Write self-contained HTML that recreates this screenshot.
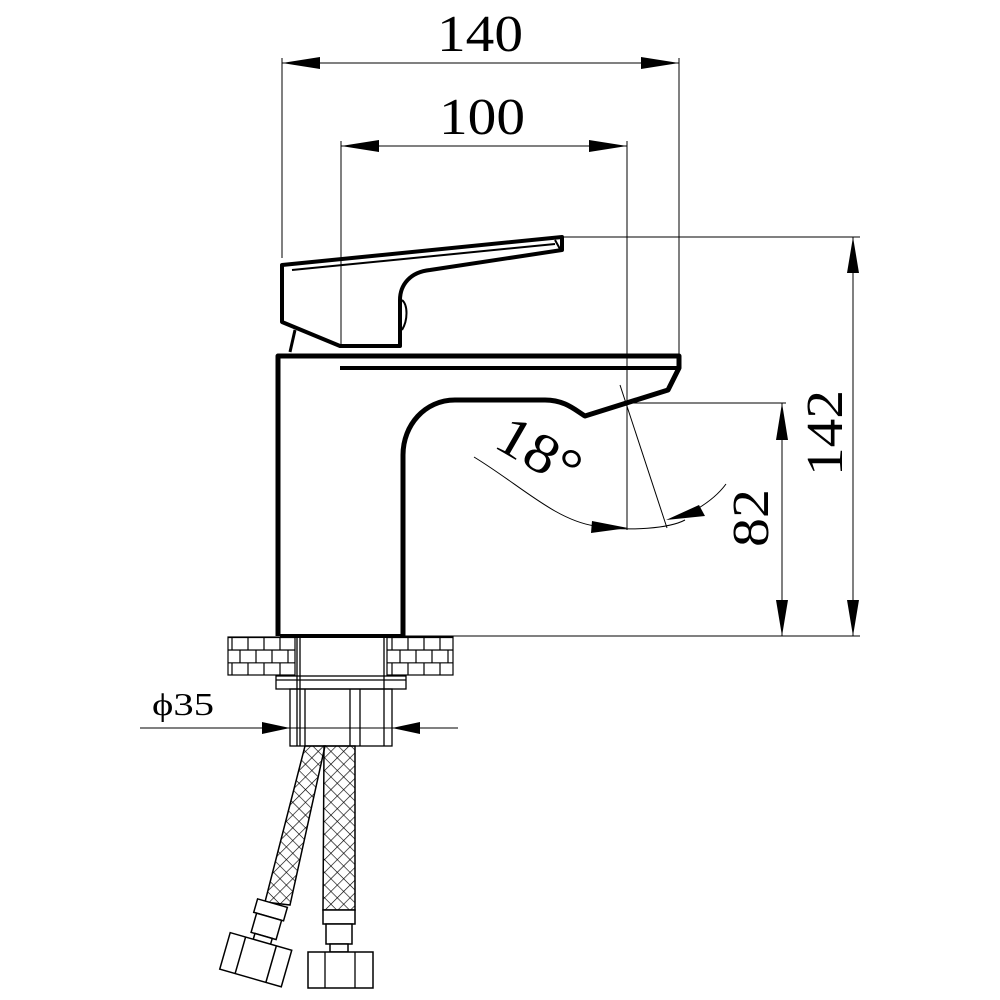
<!DOCTYPE html>
<html><head><meta charset="utf-8"><style>html,body{margin:0;padding:0;background:#fff}svg{display:block}</style></head>
<body>
<svg width="1000" height="1000" viewBox="0 0 1000 1000" xmlns="http://www.w3.org/2000/svg">
<defs>
<pattern id="xh" width="9" height="9" patternUnits="userSpaceOnUse" patternTransform="rotate(45)">
<path d="M0 0H9M0 0V9" stroke="#000" stroke-width="1.3"/>
</pattern>
<pattern id="brick" width="16" height="25.3" patternUnits="userSpaceOnUse" x="228" y="637">
<path d="M0 0.5H16M0 13H16M4 0V12.6M12 12.6V25.3" stroke="#000" stroke-width="1.2" fill="none"/>
</pattern>
</defs>
<g fill="none" stroke="#000">
<g stroke-width="1">
<line x1="282" y1="58" x2="282" y2="258"/>
<line x1="679" y1="58" x2="679" y2="356"/>
<line x1="282" y1="63" x2="679" y2="63"/>
<line x1="341" y1="141" x2="341" y2="347"/>
<line x1="627" y1="141" x2="627" y2="530"/>
<line x1="341" y1="146" x2="627" y2="146"/>
<line x1="560" y1="237" x2="860" y2="237"/>
<line x1="400" y1="636" x2="860" y2="636"/>
<line x1="853" y1="237" x2="853" y2="636"/>
<line x1="620" y1="403" x2="786" y2="403"/>
<line x1="782" y1="403" x2="782" y2="636"/>
<line x1="620" y1="385" x2="667" y2="528"/>
<path d="M474 457 C520 485 555 520 595 526 C630 532 670 528 685 520"/>
<path d="M690 513 C705 505 718 495 726 484"/>
<line x1="140" y1="728" x2="458" y2="728"/>
</g>
</g>
<g fill="#000">
<polygon points="282,63 320,57 320,69"/>
<polygon points="679,63 641,57 641,69"/>
<polygon points="341,146 379,140 379,152"/>
<polygon points="627,146 589,140 589,152"/>
<polygon points="853,237 847,273 859,273"/>
<polygon points="853,636 847,600 859,600"/>
<polygon points="782,403 776,440 788,440"/>
<polygon points="782,636 776,600 788,600"/>
<polygon points="628,528 592,521 591,533"/>
<polygon points="666,520 699,505 705,516"/>
<polygon points="290,728 262,722 262,734"/>
<polygon points="392,728 420,722 420,734"/>
</g>
<g fill="none" stroke="#000" stroke-width="5" stroke-linejoin="round">
<path d="M278 636 V356 H679 V368 L668 390 L585 416 C575 410 565 400 545 400 H455 C425 400 403 425 403 455 V636"/>
<line x1="280" y1="636" x2="403" y2="636" stroke-width="4"/>
<line x1="340" y1="368" x2="679" y2="368" stroke-width="4"/>
<path d="M282 268 V322 L340 346 H400 V300 C400 285 410 272 430 270 L562 250 V237 L282 265 Z" stroke-width="4"/>
<path d="M292 270 L555 244" stroke-width="2"/>
<path d="M290 352 L295 330" stroke-width="3"/>
<path d="M555 240 L560 249" stroke-width="2"/>
<path d="M402 300 C408 305 408 320 402 330" stroke-width="2"/>
</g>
<rect x="228" y="637" width="67" height="38" fill="url(#brick)" stroke="#000" stroke-width="1.2"/>
<rect x="387" y="637" width="66" height="38" fill="url(#brick)" stroke="#000" stroke-width="1.2"/>
<g fill="none" stroke="#000" stroke-width="1.3">
<line x1="297" y1="637" x2="297" y2="746"/>
<line x1="384" y1="637" x2="384" y2="746"/>
<line x1="300" y1="637" x2="300" y2="746"/>
<rect x="276" y="676" width="130" height="13"/>
<line x1="276" y1="680" x2="406" y2="680"/>
<rect x="290" y="689" width="102" height="57"/>
<line x1="305" y1="689" x2="305" y2="746"/>
<line x1="350" y1="689" x2="350" y2="746"/>
<line x1="360" y1="689" x2="360" y2="746"/>
</g>
<path d="M305 746 L325 746 L290 905 L265 902 Z" fill="url(#xh)" stroke="#000" stroke-width="1.5"/>
<path d="M324 746 L355 746 L355 910 L323 910 Z" fill="url(#xh)" stroke="#000" stroke-width="1.5"/>
<g fill="#fff" stroke="#000" stroke-width="1.5">
<rect x="323" y="910" width="32" height="14"/>
<rect x="326" y="924" width="26" height="20"/>
<rect x="330" y="944" width="18" height="8"/>
<rect x="308" y="952" width="65" height="36"/>
<g transform="translate(272,903) rotate(16)">
<rect x="-15" y="0" width="31" height="14"/>
<rect x="-12" y="14" width="26" height="20"/>
<rect x="-8" y="34" width="18" height="8"/>
<rect x="-32" y="40" width="64" height="38"/>
<line x1="-16" y1="40" x2="-16" y2="78"/><line x1="16" y1="40" x2="16" y2="78"/>
</g>
</g>
<g stroke="#000" stroke-width="1.3">
<line x1="325" y1="952" x2="325" y2="988"/><line x1="355" y1="952" x2="355" y2="988"/>
</g>
<g font-family="'Liberation Serif', serif" fill="#000" font-size="52">
<text x="480" y="51" text-anchor="middle" textLength="86" lengthAdjust="spacingAndGlyphs">140</text>
<text x="482" y="134" text-anchor="middle" textLength="86" lengthAdjust="spacingAndGlyphs">100</text>
<text transform="translate(842,433) rotate(-90)" text-anchor="middle" textLength="86" lengthAdjust="spacingAndGlyphs">142</text>
<text transform="translate(768,518) rotate(-90)" text-anchor="middle" textLength="58" lengthAdjust="spacingAndGlyphs">82</text>
<text transform="translate(530,468) rotate(30)" text-anchor="middle" font-size="56" textLength="88" lengthAdjust="spacingAndGlyphs">18°</text>
<text x="183" y="715" font-size="32" text-anchor="middle" textLength="62" lengthAdjust="spacingAndGlyphs">ϕ35</text>
</g>
</svg>
</body></html>
